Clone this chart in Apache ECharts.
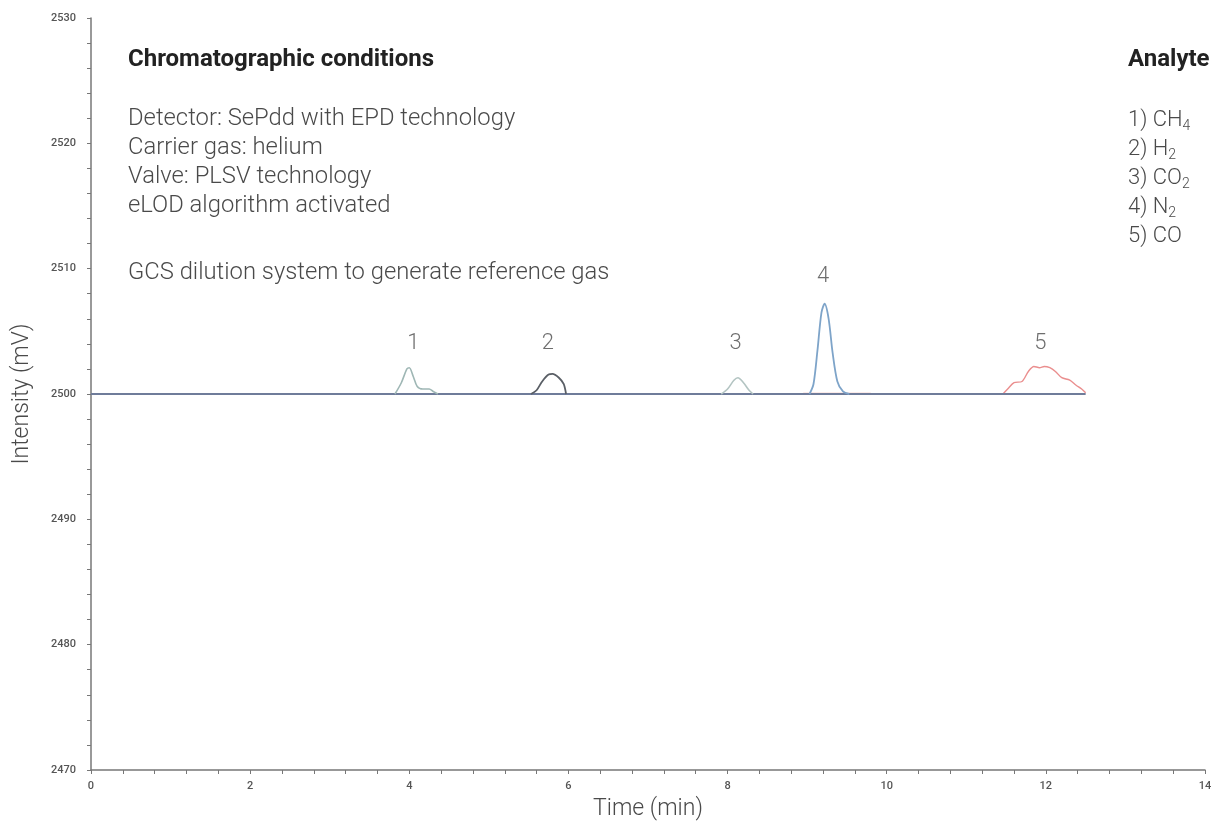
<!DOCTYPE html>
<html><head><meta charset="utf-8">
<script src="https://cdn.jsdelivr.net/npm/echarts@6/dist/echarts.min.js"></script>
<style>html,body{margin:0;padding:0;background:#fff}#c{width:1213px;height:827px}</style>
</head><body><div id="c"></div>
<script>
const baseline = [[0, 2500], [12.5, 2500]];
const peak1 = [[3.82,2500],[3.9,2500.9],[3.97,2502.0],[4.0,2502.1],[4.05,2501.4],[4.1,2500.6],[4.17,2500.4],[4.25,2500.4],[4.3,2500.2],[4.36,2500]];
const peak2 = [[5.53,2500],[5.6,2500.3],[5.67,2501.0],[5.75,2501.55],[5.8,2501.6],[5.88,2501.3],[5.94,2500.8],[5.97,2500]];
const peak3 = [[7.92,2500],[8.0,2500.4],[8.08,2501.1],[8.13,2501.3],[8.2,2500.9],[8.27,2500.3],[8.32,2500]];
const peak4 = [[9.03,2500],[9.08,2500.8],[9.13,2503.5],[9.18,2506.5],[9.22,2507.2],[9.27,2506],[9.32,2503.3],[9.38,2501],[9.45,2500.2],[9.53,2500]];
const peak4b = [[8.95,2500.05],[9.8,2500.05]];
const peak5 = [[11.46,2500],[11.52,2500.4],[11.6,2500.9],[11.7,2501.0],[11.78,2501.8],[11.85,2502.2],[11.92,2502.1],[11.98,2502.2],[12.05,2502.1],[12.12,2501.8],[12.2,2501.3],[12.3,2501.1],[12.38,2500.7],[12.45,2500.4],[12.5,2500.1]];
const peakLabels = [['1',4.05,2504],['2',5.74,2504],['3',8.1,2504],['4',9.2,2509.4],['5',11.93,2504]];
const conditionsTitle = 'Chromatographic conditions';
const conditions = ['Detector: SePdd with EPD technology','Carrier gas: helium','Valve: PLSV technology','eLOD algorithm activated','','GCS dilution system to generate reference gas'];
const analyteTitle = 'Analyte';
const analytes = ['1) CH{s|4}','2) H{s|2}','3) CO{s|2}','4) N{s|2}','5) CO'];

const font = 'Roboto, "Liberation Sans", sans-serif';
const chart = echarts.init(document.getElementById('c'));
function line(data, color, w) {
  return {type:'line', data, smooth:0.3, symbol:'none', silent:true, lineStyle:{color, width:w||1.6}, z:3};
}
const graphic = [];
graphic.push({type:'text', left:128, top:48, style:{text:conditionsTitle, font:'bold 24px '+font, fill:'#222'}});
conditions.forEach((t,i)=>{ if(t) graphic.push({type:'text', left:128, top:107+i*29 + (i===5?9:0), style:{text:t, font:'300 23.8px '+font, fill:'#4a4a4a'}}); });
graphic.push({type:'text', left:1128, top:48, style:{text:analyteTitle, font:'bold 24px '+font, fill:'#222'}});
analytes.forEach((t,i)=>{ graphic.push({type:'text', left:1128, top:109+i*29.2, style:{text:t, font:'300 22px '+font, fill:'#4a4a4a', rich:{s:{fontSize:14, fontWeight:300, fontFamily:font, fill:'#4a4a4a', padding:[12,0,0,0]}}}}); });

chart.setOption({
  animation:false,
  grid:{left:91, right:8, top:18, bottom:57, outerBoundsMode:'none', containLabel:false},
  xAxis:{type:'value', min:0, max:14, interval:2, name:'Time (min)', nameLocation:'middle', nameGap:28,
    nameTextStyle:{fontSize:23, fontWeight:300, color:'#4a4a4a', fontFamily:font},
    axisLine:{lineStyle:{color:'#777', width:1.5}}, axisTick:{show:true, length:4, lineStyle:{color:'#777'}},
    minorTick:{show:true, splitNumber:5, length:4, lineStyle:{color:'#777'}},
    axisLabel:{fontSize:11, fontWeight:500, color:'#555', fontFamily:font, margin:11}, splitLine:{show:false}},
  yAxis:{type:'value', min:2470, max:2530, interval:10, name:'Intensity (mV)', nameLocation:'middle', nameGap:57,
    nameTextStyle:{fontSize:23, fontWeight:300, color:'#4a4a4a', fontFamily:font},
    axisLine:{show:true, lineStyle:{color:'#777', width:1.5}}, axisTick:{show:true, length:4, lineStyle:{color:'#777'}},
    minorTick:{show:true, splitNumber:5, length:4, lineStyle:{color:'#777'}},
    axisLabel:{fontSize:11, fontWeight:500, color:'#555', fontFamily:font, margin:15, formatter:v=>String(v)}, splitLine:{show:false}},
  graphic,
  series:[
    line(peak4b, '#f2b0a8', 1.4),
    line(peak5, '#ea8e8e', 1.4),
    line(baseline, '#6f7c9a', 1.8),
    line(peak1, '#9fb7b5', 1.6),
    line(peak2, '#5a5f66', 1.8),
    line(peak3, '#b3c4c2', 1.6),
    line(peak4, '#7ea4c9', 1.8),
    {type:'scatter', symbolSize:0, silent:true, z:5,
     data:peakLabels.map(p=>({value:[p[1],p[2]], name:p[0]})),
     label:{show:true, position:'inside', formatter:p=>p.name, fontSize:22, fontWeight:300, color:'#4a4a4a', fontFamily:font}}
  ]
});
</script></body></html>
